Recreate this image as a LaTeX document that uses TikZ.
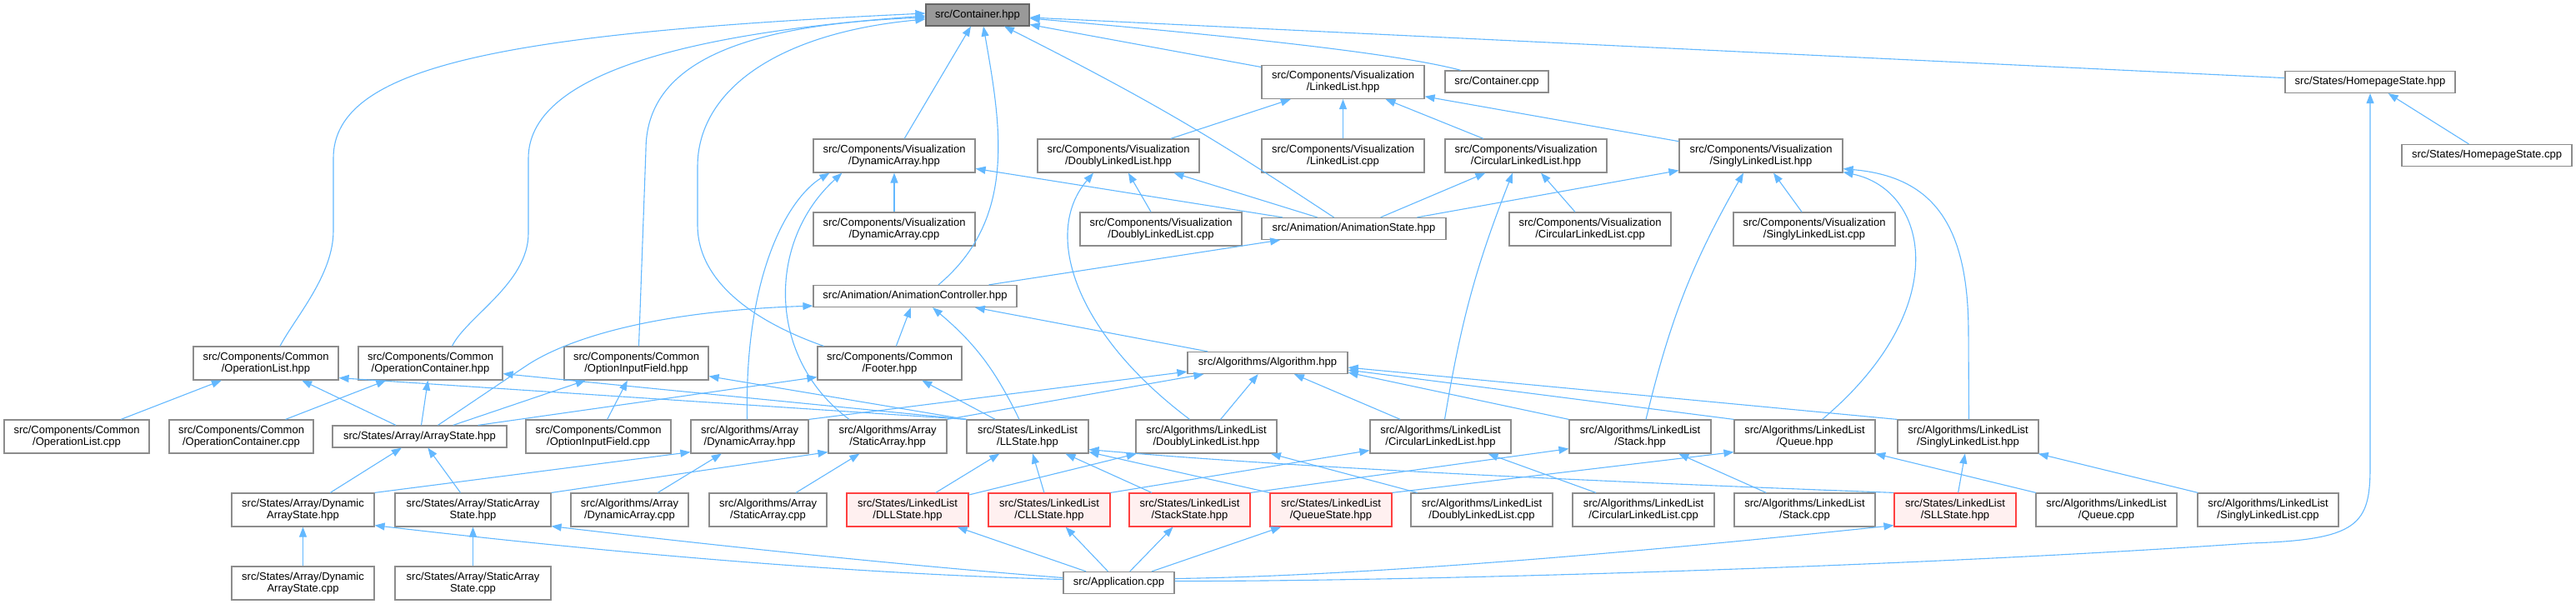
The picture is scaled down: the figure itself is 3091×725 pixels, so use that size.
\documentclass[tikz,border=0pt]{standalone}
\usepackage{fontspec}
\setmainfont{Liberation Sans}
\usetikzlibrary{arrows.meta}
\definecolor{ink}{RGB}{0,0,0}
\definecolor{frame}{RGB}{140,140,140}
\definecolor{wire}{RGB}{99,184,255}
\definecolor{rootfill}{RGB}{153,153,153}
\definecolor{rootframe}{RGB}{102,102,102}
\definecolor{cutfill}{RGB}{255,240,240}
\definecolor{cutframe}{RGB}{255,64,64}
\tikzset{
  box/.style={draw=frame, fill=white, line width=1.2pt, text=ink, font=\fontsize{13}{14}\selectfont,
    align=center, inner sep=0pt, minimum height=26pt, minimum width=#1pt},
  box/.default=124,
  tall/.style={box=#1, minimum height=40pt},
  root/.style={box=#1, fill=rootfill, draw=rootframe},
  cut/.style={tall=#1, fill=cutfill, draw=cutframe},
  inc/.style={{Triangle[length=12pt,width=9pt]}-, draw=wire, line width=1.1pt},
}

\begin{document}
\begin{tikzpicture}[x=1pt, y=1pt]
  % Who includes src/Container.hpp: every arrow points at the file that is included.
  \useasboundingbox (0,0) rectangle (3091,-725);
  \node[root=124] (cont) at (1173,-18) {src/Container.hpp};
  \node[tall=195] (llv) at (1611.5,-98.5) {src/Components/Visualization\\/LinkedList.hpp};
  \node[box=124] (contcpp) at (1796,-98) {src/Container.cpp};
  \node[box=204] (homeh) at (2844,-98.5) {src/States/HomepageState.hpp};
  \node[tall=194] (dav) at (1073,-187) {src/Components/Visualization\\/DynamicArray.hpp};
  \node[tall=194] (dllv) at (1342,-187) {src/Components/Visualization\\/DoublyLinkedList.hpp};
  \node[tall=195] (llvcpp) at (1611.5,-187) {src/Components/Visualization\\/LinkedList.cpp};
  \node[tall=194] (cllv) at (1831,-187) {src/Components/Visualization\\/CircularLinkedList.hpp};
  \node[tall=196] (sllv) at (2113,-187) {src/Components/Visualization\\/SinglyLinkedList.hpp};
  \node[box=204] (homecpp) at (2984,-186.5) {src/States/HomepageState.cpp};
  \node[tall=194] (davcpp) at (1073,-275) {src/Components/Visualization\\/DynamicArray.cpp};
  \node[tall=194] (dllvcpp) at (1393,-275) {src/Components/Visualization\\/DoublyLinkedList.cpp};
  \node[box=221] (animstate) at (1624.5,-274.5) {src/Animation/AnimationState.hpp};
  \node[tall=194] (cllvcpp) at (1908,-275) {src/Components/Visualization\\/CircularLinkedList.cpp};
  \node[tall=194] (sllvcpp) at (2177,-275) {src/Components/Visualization\\/SinglyLinkedList.cpp};
  \node[box=244] (animctrl) at (1098,-355.5) {src/Animation/AnimationController.hpp};
  \node[tall=174] (oplist) at (319,-436) {src/Components/Common\\/OperationList.hpp};
  \node[tall=173] (opcont) at (516.5,-436) {src/Components/Common\\/OperationContainer.hpp};
  \node[tall=173] (optin) at (763.5,-436) {src/Components/Common\\/OptionInputField.hpp};
  \node[tall=173] (footer) at (1067.5,-436) {src/Components/Common\\/Footer.hpp};
  \node[box=192] (algo) at (1521,-435.5) {src/Algorithms/Algorithm.hpp};
  \node[tall=174] (oplistcpp) at (92,-524) {src/Components/Common\\/OperationList.cpp};
  \node[tall=173] (opcontcpp) at (289.5,-524) {src/Components/Common\\/OperationContainer.cpp};
  \node[box=209] (arrstate) at (503.5,-524) {src/States/Array/ArrayState.hpp};
  \node[tall=174] (optincpp) at (718,-524) {src/Components/Common\\/OptionInputField.cpp};
  \node[tall=141] (aldah) at (899.5,-524) {src/Algorithms/Array\\/DynamicArray.hpp};
  \node[tall=142] (alsah) at (1065,-524) {src/Algorithms/Array\\/StaticArray.hpp};
  \node[tall=146] (llstate) at (1233,-524) {src/States/LinkedList\\/LLState.hpp};
  \node[tall=169] (aldllh) at (1447.5,-524) {src/Algorithms/LinkedList\\/DoublyLinkedList.hpp};
  \node[tall=169] (alcllh) at (1728.5,-524) {src/Algorithms/LinkedList\\/CircularLinkedList.hpp};
  \node[tall=170] (alstackh) at (1968,-524) {src/Algorithms/LinkedList\\/Stack.hpp};
  \node[tall=169] (alqueueh) at (2165.5,-524) {src/Algorithms/LinkedList\\/Queue.hpp};
  \node[tall=169] (alsllh) at (2361.5,-524) {src/Algorithms/LinkedList\\/SinglyLinkedList.hpp};
  \node[tall=171] (dastate) at (363.5,-612) {src/States/Array/Dynamic\\ArrayState.hpp};
  \node[tall=187] (sastate) at (567.5,-612) {src/States/Array/StaticArray\\State.hpp};
  \node[tall=141] (aldacpp) at (755.5,-612) {src/Algorithms/Array\\/DynamicArray.cpp};
  \node[tall=141] (alsacpp) at (921.5,-612) {src/Algorithms/Array\\/StaticArray.cpp};
  \node[cut=146] (dllstate) at (1089,-612) {src/States/LinkedList\\/DLLState.hpp};
  \node[cut=146] (cllstate) at (1259,-612) {src/States/LinkedList\\/CLLState.hpp};
  \node[cut=145] (stackstate) at (1427.5,-612) {src/States/LinkedList\\/StackState.hpp};
  \node[cut=146] (queuestate) at (1597,-612) {src/States/LinkedList\\/QueueState.hpp};
  \node[tall=170] (aldllcpp) at (1778,-612) {src/Algorithms/LinkedList\\/DoublyLinkedList.cpp};
  \node[tall=170] (alcllcpp) at (1972,-612) {src/Algorithms/LinkedList\\/CircularLinkedList.cpp};
  \node[tall=169] (alstackcpp) at (2165.5,-612) {src/Algorithms/LinkedList\\/Stack.cpp};
  \node[cut=146] (sllstate) at (2346,-612) {src/States/LinkedList\\/SLLState.hpp};
  \node[tall=169] (alqueuecpp) at (2527.5,-612) {src/Algorithms/LinkedList\\/Queue.cpp};
  \node[tall=169] (alsllcpp) at (2721.5,-612) {src/Algorithms/LinkedList\\/SinglyLinkedList.cpp};
  \node[tall=171] (dastatecpp) at (363.5,-700) {src/States/Array/Dynamic\\ArrayState.cpp};
  \node[tall=187] (sastatecpp) at (567.5,-700) {src/States/Array/StaticArray\\State.cpp};
  \node[box=133] (app) at (1342.5,-699.5) {src/Application.cpp};

  \draw[inc] (cont) -- (llv);
  \draw[inc] ([yshift=-4pt]cont.east) .. controls (1500,-45) and (1680,-65) .. ([xshift=-43pt]contcpp.north);
  \draw[inc] (cont) -- (homeh);
  \draw[inc] (cont) -- (dav);
  \draw[inc] ([xshift=7pt]cont.south) to[out=-80,in=40] ([xshift=28pt]animctrl.north);
  \draw[inc] ([xshift=32pt]cont.south) .. controls (1400,-130) and (1470,-175) .. ([xshift=-24pt]animstate.north);
  \draw[inc] ([yshift=2pt]cont.west) .. controls (600,-40) and (400,-80) .. (400,-190) -- (400,-277)
    .. controls (400,-330) and (355,-380) .. ([xshift=17pt]oplist.north);
  \draw[inc] ([yshift=-1pt]cont.west) .. controls (820,-40) and (634,-90) .. (634,-190) -- (634,-280)
    .. controls (634,-340) and (560,-380) .. ([xshift=26pt]opcont.north);
  \draw[inc] ([yshift=-3pt]cont.west) .. controls (880,-30) and (775,-80) .. (775,-180) -- ([xshift=3pt]optin.north);
  \draw[inc] ([yshift=-5pt]cont.west) .. controls (930,-40) and (837,-110) .. (837,-200) -- (837,-270)
    .. controls (837,-350) and (930,-395) .. ([xshift=8pt]footer.north west);
  \draw[inc] (llv) -- (dllv);
  \draw[inc] (llv) -- (llvcpp);
  \draw[inc] (llv) -- (cllv);
  \draw[inc] (llv) -- (sllv);
  \draw[inc] (homeh) -- (homecpp);
  \draw[inc] (dav) -- (davcpp);
  \draw[inc] (dllv) -- (dllvcpp);
  \draw[inc] (dav) -- (animstate);
  \draw[inc] (dllv) -- (animstate);
  \draw[inc] (cllv) -- (animstate);
  \draw[inc] (sllv) -- (animstate);
  \draw[inc] (cllv) -- (cllvcpp);
  \draw[inc] (sllv) -- (sllvcpp);
  \draw[inc] (animstate) -- (animctrl);
  \draw[inc] (animctrl) -- (footer);
  \draw[inc] (animctrl) -- (algo);
  \draw[inc] (oplist) -- (arrstate);
  \draw[inc] (opcont) -- (arrstate);
  \draw[inc] (optin) -- (arrstate);
  \draw[inc] ([yshift=2pt]animctrl.south west) .. controls (740,-375) and (655,-423) .. (630,-440) -- ([xshift=22pt]arrstate.north);
  \draw[inc] ([yshift=4pt]footer.south west) -- ([xshift=70pt]arrstate.north);
  \draw[inc] (optin) -- (optincpp);
  \draw[inc] (opcont) -- (opcontcpp);
  \draw[inc] (oplist) -- (oplistcpp);
  \draw[inc] ([yshift=3pt]oplist.south east) -- (llstate.north west);
  \draw[inc] ([yshift=8pt]opcont.south east) -- (llstate.north west);
  \draw[inc] ([yshift=5pt]optin.south east) -- (llstate.north west);
  \draw[inc] (footer) -- (llstate);
  \draw[inc] ([xshift=21pt]animctrl.south) to[bend left=12] ([xshift=-10pt]llstate.north);
  \draw[inc] ([xshift=20pt]dav.south west) .. controls (950,-235) and (893,-320) .. ([xshift=-3pt]aldah.north);
  \draw[inc] ([xshift=35pt]dav.south west) .. controls (920,-290) and (920,-430) .. ([xshift=-46pt]alsah.north);
  \draw[inc] ([yshift=3pt]algo.south west) -- (aldah.north east);
  \draw[inc] ([xshift=20pt]algo.south west) -- (alsah.north east);
  \draw[inc] ([xshift=-30pt]dllv.south) .. controls (1250,-280) and (1290,-400) .. ([xshift=-20pt]aldllh.north);
  \draw[inc] (algo) -- (aldllh);
  \draw[inc] ([xshift=-16pt]cllv.south) to[bend right=6] ([xshift=5pt]alcllh.north);
  \draw[inc] (algo) -- (alcllh);
  \draw[inc] ([xshift=-21pt]sllv.south) to[bend right=8] ([xshift=7pt]alstackh.north);
  \draw[inc] ([yshift=2pt]algo.south east) -- (alstackh.north west);
  \draw[inc] ([yshift=1pt]sllv.south east) .. controls (2315,-228) and (2345,-370) .. ([xshift=21pt]alqueueh.north);
  \draw[inc] ([yshift=5pt]algo.south east) -- (alqueueh.north west);
  \draw[inc] ([yshift=5pt]sllv.south east) .. controls (2320,-212) and (2362,-270) .. (2362,-400) -- ([xshift=1pt]alsllh.north);
  \draw[inc] ([yshift=8pt]algo.south east) -- (alsllh.north west);
  \draw[inc] (arrstate) -- (dastate);
  \draw[inc] ([yshift=2pt]aldah.south west) -- (dastate.north east);
  \draw[inc] (arrstate) -- (sastate);
  \draw[inc] ([yshift=2pt]alsah.south west) -- (sastate.north east);
  \draw[inc] (aldah) -- (aldacpp);
  \draw[inc] (alsah) -- (alsacpp);
  \draw[inc] (llstate) -- (dllstate);
  \draw[inc] (aldllh) -- (dllstate);
  \draw[inc] (llstate) -- (cllstate);
  \draw[inc] ([yshift=4pt]alcllh.south west) -- (cllstate.north east);
  \draw[inc] (llstate) -- (stackstate);
  \draw[inc] ([yshift=6pt]alstackh.south west) -- (stackstate.north east);
  \draw[inc] ([yshift=2pt]llstate.south east) -- (queuestate.north west);
  \draw[inc] ([yshift=2pt]alqueueh.south west) -- (queuestate.north east);
  \draw[inc] ([yshift=5pt]llstate.south east) .. controls (1450,-552) and (1700,-570) .. (sllstate.north west);
  \draw[inc] (alsllh) -- (sllstate);
  \draw[inc] (aldllh) -- (aldllcpp);
  \draw[inc] (alcllh) -- (alcllcpp);
  \draw[inc] (alstackh) -- (alstackcpp);
  \draw[inc] (alqueueh) -- (alqueuecpp);
  \draw[inc] (alsllh) -- (alsllcpp);
  \draw[inc] (dastate) -- (dastatecpp);
  \draw[inc] (sastate) -- (sastatecpp);
  \draw[inc] ([yshift=2pt]dastate.south east) .. controls (700,-660) and (1000,-688) .. ([yshift=4pt]app.west);
  \draw[inc] ([yshift=1pt]sastate.south east) .. controls (800,-648) and (1050,-676) .. ([yshift=6pt]app.west);
  \draw[inc] (dllstate) -- (app);
  \draw[inc] (cllstate) -- (app);
  \draw[inc] (stackstate) -- (app);
  \draw[inc] (queuestate) -- (app);
  \draw[inc] ([yshift=2pt]sllstate.south west) .. controls (1900,-670) and (1600,-692) .. ([yshift=5pt]app.east);
  \draw[inc] (homeh.south) -- (2844,-560) .. controls (2844,-630) and (2830,-648) .. (2700,-652)
    .. controls (2300,-680) and (1700,-698) .. ([yshift=2pt]app.east);
\end{tikzpicture}
\end{document}
